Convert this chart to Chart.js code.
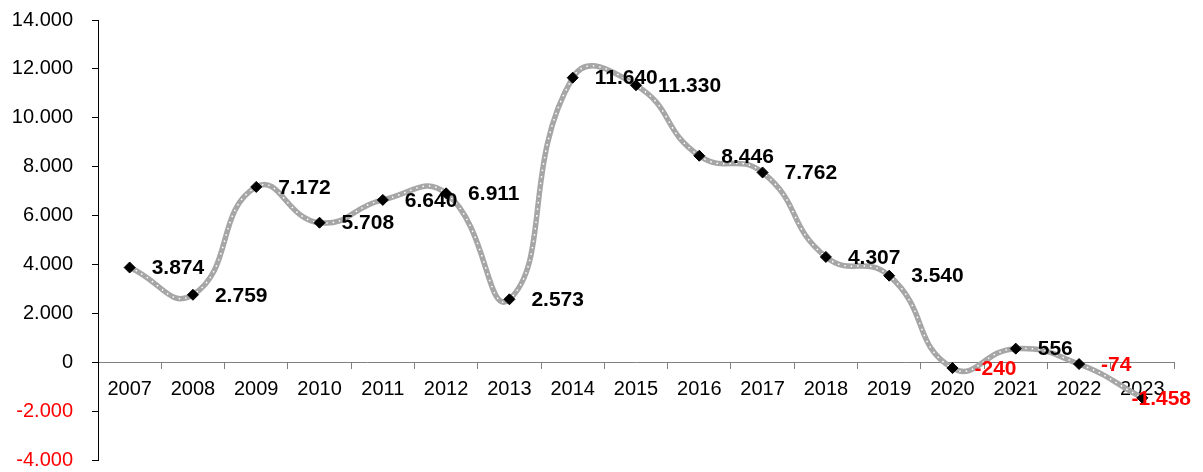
<!DOCTYPE html>
<html>
<head>
<meta charset="utf-8">
<script src="https://cdn.jsdelivr.net/npm/chart.js@4/dist/chart.umd.min.js"></script>
<style>
    html, body { margin: 0; padding: 0; background: #fff; }
    #wrap { width: 1203px; height: 472px; }
</style>
</head>
<body>
<div id="wrap"><canvas id="chart" width="1203" height="472"></canvas></div>
<script>
// Data
const years = ['2007', '2008', '2009', '2010', '2011', '2012', '2013', '2014', '2015',
               '2016', '2017', '2018', '2019', '2020', '2021', '2022', '2023'];
const values = [3874, 2759, 7172, 5708, 6640, 6911, 2573, 11640, 11330,
                8446, 7762, 4307, 3540, -240, 556, -74, -1458];
const yTicks = [-4000, -2000, 0, 2000, 4000, 6000, 8000, 10000, 12000, 14000];

const FONT = "'Liberation Sans', Arial, sans-serif";

// Format with dot as thousands separator
function fmt(v) {
    const s = Math.abs(v).toString().replace(/\B(?=(\d{3})+(?!\d))/g, '.');
    return (v < 0 ? '-' : '') + s;
}

// Value labels to the right of each point
const valueLabels = {
    id: 'valueLabels',
    afterDatasetsDraw(chart) {
        const ctx = chart.ctx;
        const meta = chart.getDatasetMeta(1);
        ctx.save();
        ctx.font = 'bold 21px ' + FONT;
        ctx.textBaseline = 'middle';
        ctx.textAlign = 'left';
        meta.data.forEach((pt, i) => {
            const text = fmt(values[i]);
            const w = ctx.measureText(text).width;
            let x = pt.x + 22;
            if (x + w > chart.width - 12) x = chart.width - 12 - w;
            ctx.fillStyle = values[i] < 0 ? '#ff0000' : '#000000';
            ctx.fillText(text, x, pt.y + 1);
        });
        ctx.restore();
    }
};

const ctx = document.getElementById('chart').getContext('2d');
new Chart(ctx, {
    type: 'line',
    data: {
        labels: years,
        datasets: [
            {
                data: values,
                borderColor: '#a6a6a6',
                borderWidth: 5.5,
                tension: 0.5,
                pointRadius: 0,
                order: 2
            },
            {
                data: values,
                borderColor: '#ffffff',
                borderWidth: 1.5,
                borderDash: [1.5, 5],
                tension: 0.5,
                pointStyle: 'rectRot',
                pointRadius: 5.5,
                pointBackgroundColor: '#000',
                pointBorderColor: '#000',
                pointBorderWidth: 1,
                order: 1
            }
        ]
    },
    options: {
        responsive: false,
        animation: false,
        layout: { padding: { top: 20, right: 29, bottom: 12, left: 0 } },
        plugins: {
            legend: { display: false },
            tooltip: { enabled: false }
        },
        scales: {
            x: {
                position: { y: 0 },
                offset: true,
                afterFit(scale) {
                    scale.height = 0;
                },
                grid: {
                    offset: true,
                    drawOnChartArea: false,
                    drawTicks: true,
                    tickLength: 6,
                    color: '#808080'
                },
                border: { display: true, color: '#808080', width: 1 },
                ticks: {
                    padding: 9,
                    color: '#000',
                    font: { family: FONT, size: 20 },
                    maxRotation: 0,
                    autoSkip: false
                }
            },
            y: {
                min: -4000,
                max: 14000,
                afterBuildTicks(scale) {
                    scale.ticks = yTicks.map(v => ({ value: v }));
                },
                afterFit(scale) {
                    scale.width = 98;
                    scale.paddingTop = 0;
                    scale.paddingBottom = 0;
                },
                grid: {
                    drawOnChartArea: false,
                    drawTicks: true,
                    tickLength: 6,
                    color: '#000'
                },
                border: { display: true, color: '#000', width: 1 },
                ticks: {
                    padding: 19,
                    font: { family: FONT, size: 20 },
                    color: (c) => (c.tick && c.tick.value < 0 ? '#ff0000' : '#000'),
                    callback: (v) => fmt(v)
                }
            }
        }
    },
    plugins: [valueLabels]
});
</script>
</body>
</html>
